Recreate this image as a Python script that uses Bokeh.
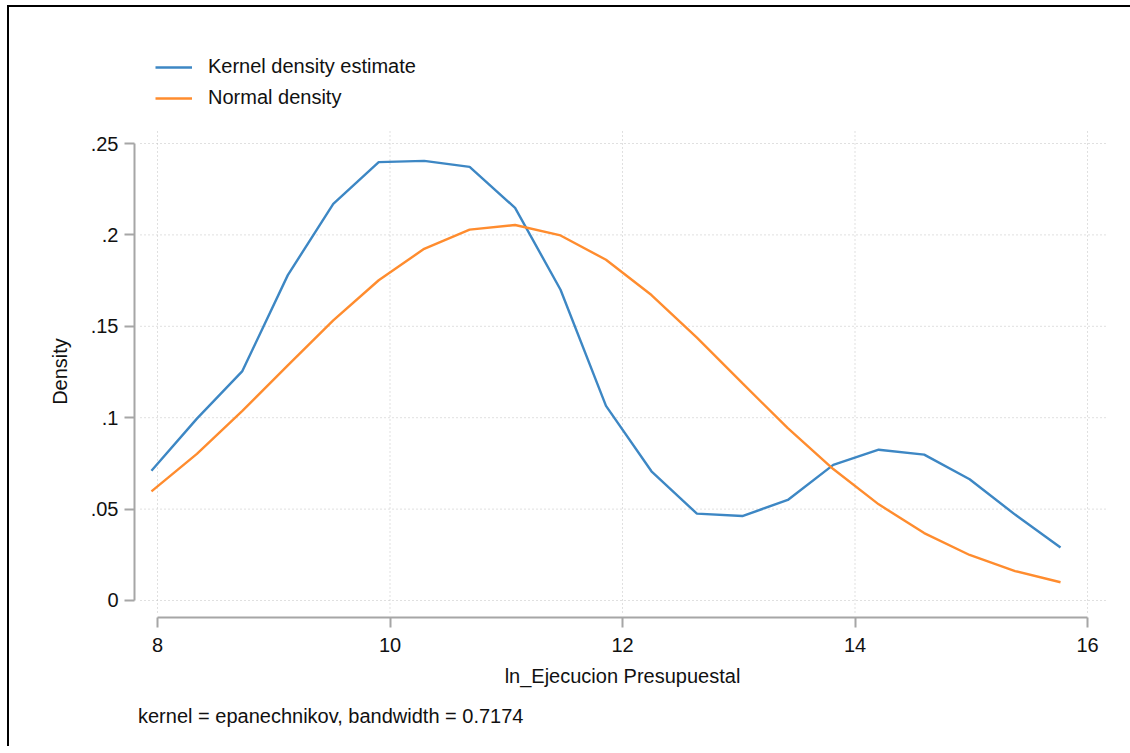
from bokeh.plotting import figure
from bokeh.models import Range1d, Legend, LegendItem, FixedTicker, Div
from bokeh.layouts import column
from bokeh.embed import file_html
from bokeh.resources import INLINE

# ---- data ----
x_grid = [7.948, 8.339, 8.730, 9.121, 9.512, 9.903, 10.294, 10.685, 11.076, 11.467,
          11.858, 12.249, 12.640, 13.031, 13.422, 13.813, 14.204, 14.595, 14.986,
          15.377, 15.768]
kde_density = [0.0710, 0.0995, 0.1255, 0.1780, 0.2170, 0.2398, 0.2405, 0.2372, 0.2148,
               0.1700, 0.1065, 0.0707, 0.0475, 0.0462, 0.0550, 0.0742, 0.0825, 0.0798,
               0.0663, 0.0470, 0.0290]
normal_density = [0.0597, 0.0802, 0.1037, 0.1286, 0.1532, 0.1752, 0.1924, 0.2029, 0.2054,
                  0.1997, 0.1864, 0.1671, 0.1438, 0.1189, 0.0943, 0.0719, 0.0526, 0.0369,
                  0.0249, 0.0161, 0.0100]
x_ticks = [8, 10, 12, 14, 16]
y_ticks = [0, 0.05, 0.1, 0.15, 0.2, 0.25]
y_tick_labels = ["0", ".05", ".1", ".15", ".2", ".25"]
series_names = ["Kernel density estimate", "Normal density"]
series_colors = ["#3d87c4", "#ff8c2e"]
series_values = [kde_density, normal_density]
x_title = "ln_Ejecucion Presupuestal"
y_title = "Density"
note = "kernel = epanechnikov, bandwidth = 0.7174"

FONT = "Liberation Sans"
TXT = "#111111"
AXC = "#a6a6a6"
GRC = "#c0c0c0"
LW = 2.4
W = 1128

# ---------------- legend strip (top) ----------------
# The strip shows only the legend: its ranges lie outside the data, so the
# series lines themselves are drawn (visibly) only in the main plot below.
leg = figure(width=W, height=112, output_backend="svg", toolbar_location=None,
             x_range=Range1d(0, 1), y_range=Range1d(0, 1),
             x_axis_type=None, y_axis_type=None,
             min_border_left=0, min_border_right=0, min_border_top=0, min_border_bottom=0)
leg.outline_line_color = None
leg.border_fill_color = None
leg.background_fill_color = None
leg.xgrid.visible = False
leg.ygrid.visible = False
leg_items = []
for name, col, vals in zip(series_names, series_colors, series_values):
    rr = leg.line(x_grid, vals, line_color=col, line_width=LW)
    leg_items.append(LegendItem(label=name, renderers=[rr]))
legend = Legend(items=leg_items, location=(21, 3), orientation="vertical",
                padding=0, margin=0, spacing=8, glyph_width=37, glyph_height=20,
                label_height=20, label_standoff=16, border_line_color=None,
                background_fill_alpha=0, label_text_font=FONT,
                label_text_font_size="20px", label_text_color=TXT)
leg.add_layout(legend)

# ---------------- main plot ----------------
p = figure(width=W, height=580, output_backend="svg", toolbar_location=None,
           x_range=Range1d(7.80215, 16.19785), y_range=Range1d(-0.0093, 0.25985),
           min_border_left=134, min_border_right=18, min_border_top=13,
           min_border_bottom=75)
p.border_fill_color = None
p.background_fill_color = "#ffffff"
p.outline_line_color = None
p.xgrid.visible = False
p.ygrid.visible = False

# dotted grid lines (Stata style, slightly detached from the axes)
gx0, gx1 = 7.8538, 16.1548
gy0, gy1 = -0.00656, 0.25711
p.segment(x0=x_ticks, y0=[gy0] * len(x_ticks), x1=x_ticks, y1=[gy1] * len(x_ticks),
          line_color=GRC, line_width=1, line_dash="1 3")
p.segment(x0=[gx0] * len(y_ticks), y0=y_ticks, x1=[gx1] * len(y_ticks), y1=y_ticks,
          line_color=GRC, line_width=1, line_dash="1 3")

for col, vals in zip(series_colors, series_values):
    p.line(x_grid, vals, line_color=col, line_width=LW)

for ax in (p.xaxis[0], p.yaxis[0]):
    ax.axis_line_color = AXC
    ax.axis_line_width = 2
    ax.major_tick_line_color = AXC
    ax.major_tick_line_width = 2
    ax.major_tick_in = 0
    ax.major_tick_out = 10
    ax.minor_tick_line_color = None
    ax.major_label_text_font = FONT
    ax.major_label_text_font_size = "20px"
    ax.major_label_text_color = TXT
    ax.axis_label_text_font = FONT
    ax.axis_label_text_font_size = "20px"
    ax.axis_label_text_font_style = "normal"
    ax.axis_label_text_color = TXT

p.xaxis.ticker = FixedTicker(ticks=x_ticks)
p.xaxis.bounds = (x_ticks[0], x_ticks[-1])
p.xaxis.axis_label = x_title
p.xaxis.major_label_standoff = 10
p.xaxis.axis_label_standoff = 10

p.yaxis.ticker = FixedTicker(ticks=y_ticks)
p.yaxis.bounds = (y_ticks[0], y_ticks[-1])
p.yaxis.major_label_overrides = dict(zip(y_ticks, y_tick_labels))
p.yaxis.axis_label = y_title
p.yaxis.major_label_standoff = 6
p.yaxis.axis_label_standoff = 17

# ---------------- note (bottom) ----------------
note_div = Div(
    text=(f'<div style="padding:8px 0 0 133px;font-family:\'{FONT}\';'
          f'font-size:20px;line-height:22px;color:{TXT};white-space:nowrap;">{note}</div>'),
    width=W, height=44)

layout = column(leg, p, note_div, spacing=0,
                styles={"box-shadow": "inset 7px 5px 0 0 #ffffff, inset 9px 7px 0 0 #000000"})

open("out.html", "w").write(file_html(layout, INLINE))
